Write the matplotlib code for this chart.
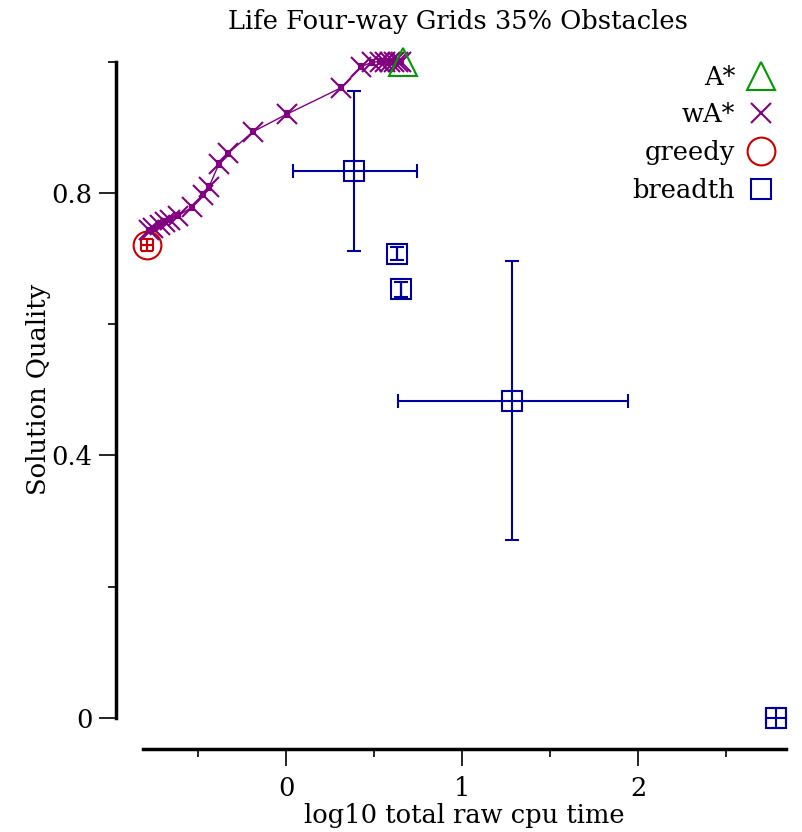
import matplotlib
matplotlib.use("Agg")
import matplotlib.pyplot as plt
from matplotlib.ticker import FixedLocator
from matplotlib.lines import Line2D

plt.rcParams['font.family'] = ['DejaVu Serif']
FS = 18.5

title = "Life Four-way Grids 35% Obstacles"
xlabel = "log10 total raw cpu time"
ylabel = "Solution Quality"

# A*
astar_x = [0.665]
astar_y = [1.0]

# weighted A*
wastar_x = [-0.778, -0.756, -0.716, -0.688, -0.659, -0.614, -0.534, -0.472, -0.438,
            -0.381, -0.330, -0.188, 0.006, 0.313, 0.426, 0.489, 0.534, 0.563,
            0.590, 0.614, 0.636, 0.653]
wastar_y = [0.743, 0.746, 0.751, 0.756, 0.759, 0.765, 0.778, 0.797, 0.809,
            0.844, 0.860, 0.893, 0.920, 0.960, 0.992, 0.999, 1.0, 1.0,
            1.0, 1.0, 1.0, 1.0]
wastar_xerr = [0.012] * 22
wastar_yerr = [0.004] * 22

# greedy
greedy_x = [-0.79]
greedy_y = [0.720]
greedy_xerr = [0.034]
greedy_yerr = [0.009]

# breadth-first
breadth_x = [0.386, 0.630, 0.654, 1.284, 2.784]
breadth_y = [0.833, 0.707, 0.653, 0.483, 0.0]
breadth_xlo = [0.346, 0.0, 0.0, 0.648, 0.055]
breadth_xhi = [0.358, 0.0, 0.0, 0.659, 0.055]
breadth_ylo = [0.122, 0.010, 0.011, 0.212, 0.015]
breadth_yhi = [0.122, 0.010, 0.011, 0.213, 0.015]

names = ['A*', 'wA*', 'greedy', 'breadth']

c_astar = '#009900'
c_wastar = '#800080'
c_greedy = '#CC0000'
c_breadth = '#0000A0'

fig = plt.figure(figsize=(8.03, 8.32), dpi=100)
ax = fig.add_axes([116/803, (832-749)/832, (786-116)/803, (749-60)/832])

ax.errorbar(astar_x, astar_y, fmt='^', color=c_astar, mfc='none', ms=20, mew=1.5,
            clip_on=False, zorder=4)
ax.errorbar(wastar_x, wastar_y, xerr=wastar_xerr, yerr=wastar_yerr, fmt='x-',
            color=c_wastar, ms=14, mew=1.5, lw=1.0, elinewidth=1.2, capsize=2.5,
            clip_on=False, zorder=3)
ax.errorbar(greedy_x, greedy_y, xerr=greedy_xerr, yerr=greedy_yerr, fmt='o',
            color=c_greedy, mfc='none', ms=20, mew=1.5, elinewidth=1.5, capsize=4,
            clip_on=False, zorder=2)
ax.errorbar(breadth_x, breadth_y, xerr=[breadth_xlo, breadth_xhi],
            yerr=[breadth_ylo, breadth_yhi], fmt='s', color=c_breadth, mfc='none',
            ms=15, mew=1.5, elinewidth=1.5, capsize=5,
            clip_on=False, zorder=5)

xlo, xhi = -0.966, 2.841
ylo, yhi = -0.0472, 1.0023
ax.set_xlim(xlo, xhi)
ax.set_ylim(ylo, yhi)

for s in ['top', 'right']:
    ax.spines[s].set_visible(False)
xb = (-0.8125, 2.841)
yb = (0, 1.0)
ax.spines['left'].set_bounds(*yb)
ax.spines['bottom'].set_bounds(*xb)
ax.spines['left'].set_linewidth(2.5)
ax.spines['bottom'].set_linewidth(2.5)

ax.xaxis.set_major_locator(FixedLocator([0, 1, 2]))
ax.xaxis.set_minor_locator(FixedLocator([-0.5, 0.5, 1.5, 2.5]))
ax.set_xticklabels(['0', '1', '2'])
ax.yaxis.set_major_locator(FixedLocator([0, 0.4, 0.8]))
ax.yaxis.set_minor_locator(FixedLocator([0.2, 0.6, 1.0]))
ax.set_yticklabels(['0', '0.4', '0.8'])
ax.tick_params(which='major', direction='out', length=12, width=1.2, labelsize=FS)
ax.tick_params(axis='x', which='major', pad=7.5)
ax.tick_params(axis='y', which='major', pad=5)
ax.tick_params(which='minor', direction='out', length=6, width=1.2)

ax.set_xlabel(xlabel, fontsize=FS, labelpad=0)
ax.set_ylabel(ylabel, fontsize=FS, labelpad=0)
ax.xaxis.set_label_coords(((xb[0] + xb[1]) / 2 - xlo) / (xhi - xlo), -0.078)
ax.yaxis.set_label_coords(-0.097, ((yb[0] + yb[1]) / 2 - ylo) / (yhi - ylo))
fig.text(458/803, 1 - 22/832, title, ha='center', va='center', fontsize=FS)

handles = [
    Line2D([], [], ls='none', marker='^', ms=20, mew=1.5, color=c_astar, mfc='none'),
    Line2D([], [], ls='none', marker='x', ms=15, mew=1.5, color=c_wastar),
    Line2D([], [], ls='none', marker='o', ms=20, mew=1.5, color=c_greedy, mfc='none'),
    Line2D([], [], ls='none', marker='s', ms=15, mew=1.5, color=c_breadth, mfc='none'),
]
leg = ax.legend(handles, names, loc='upper right', bbox_to_anchor=(1.016, 1.027),
                frameon=False, markerfirst=False, fontsize=FS, handlelength=1.0,
                handletextpad=0.5, labelspacing=0.5, numpoints=1)

fig.savefig('out.png', dpi=100)
